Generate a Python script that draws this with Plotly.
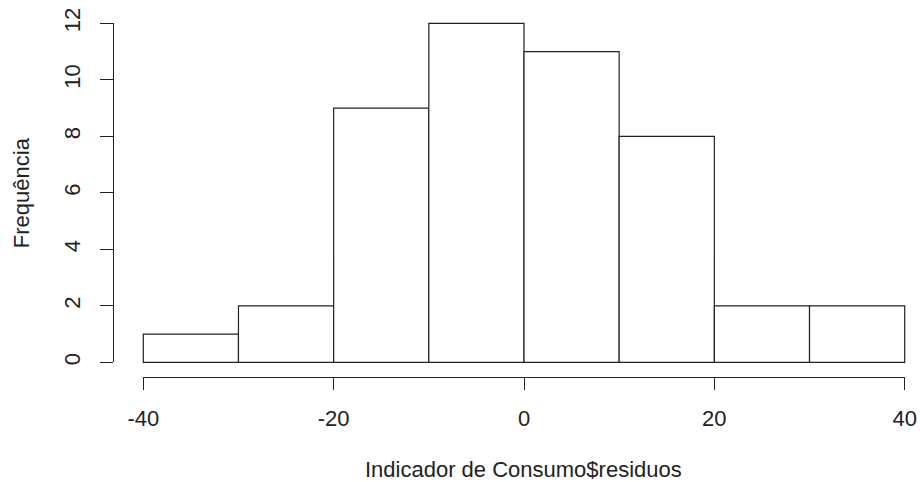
import plotly.graph_objects as go

# Data
bin_edges = [-40, -30, -20, -10, 0, 10, 20, 30, 40]
counts = [1, 2, 9, 12, 11, 8, 2, 2]
x_ticks = [-40, -20, 0, 20, 40]
y_ticks = [0, 2, 4, 6, 8, 10, 12]
x_title = "Indicador de Consumo$residuos"
y_title = "Frequência"

centers = [(a + b) / 2 for a, b in zip(bin_edges[:-1], bin_edges[1:])]
widths = [b - a for a, b in zip(bin_edges[:-1], bin_edges[1:])]

W, H = 920, 482
FONT = "Liberation Sans, Arial, sans-serif"
INK = "#222222"
FS = 22


def fx(px):
    return px / W


def fy(py):
    return 1 - py / H


# pixel geometry
x_left, x_right = 143.3, 904.7    # -40 .. 40
y_bot, y_top = 362.3, 23.3        # 0 .. 12
xs = (x_right - x_left) / 80.0
ys = (y_bot - y_top) / 12.0

fig = go.Figure()
fig.add_trace(go.Bar(
    x=centers, y=counts, width=widths,
    marker=dict(color="white", line=dict(color=INK, width=1.2)),
    hoverinfo="x+y", showlegend=False,
))
fig.add_trace(go.Scatter(
    x=[bin_edges[0], bin_edges[-1]], y=[y_ticks[0], y_ticks[-1]],
    xaxis="x2", yaxis="y2", mode="markers",
    marker=dict(opacity=0), hoverinfo="skip", showlegend=False,
))

pad = 1.0
fig.update_layout(
    width=W, height=H,
    margin=dict(l=0, r=0, t=0, b=0),
    paper_bgcolor="white", plot_bgcolor="rgba(0,0,0,0)",
    font=dict(family=FONT, size=FS, color=INK),
    xaxis=dict(visible=False, range=[-40 - pad, 40 + pad],
               domain=[fx(x_left - pad * xs), fx(x_right + pad * xs)]),
    yaxis=dict(visible=False, range=[-0.2, 12.2],
               domain=[fy(y_bot + 0.2 * ys), fy(y_top - 0.2 * ys)]),
    xaxis2=dict(range=[-40, 40], domain=[fx(x_left), fx(x_right)],
                anchor="free", position=fy(376.7),
                showline=True, linecolor=INK, linewidth=1.2,
                ticks="outside", ticklen=12, tickwidth=1.2, tickcolor=INK,
                tickvals=x_ticks, ticktext=[str(v) for v in x_ticks],
                ticklabelstandoff=10,
                showgrid=False, zeroline=False, automargin=False,
                tickfont=dict(size=FS, color=INK)),
    yaxis2=dict(range=[0, 12], domain=[fy(y_bot), fy(y_top)],
                anchor="free", position=fx(113.3),
                showline=True, linecolor=INK, linewidth=1.2,
                ticks="outside", ticklen=13, tickwidth=1.2, tickcolor=INK,
                tickvals=y_ticks, ticktext=[str(v) for v in y_ticks],
                tickangle=-90, ticklabelstandoff=11,
                showgrid=False, zeroline=False, automargin=False,
                tickfont=dict(size=FS, color=INK)),
    annotations=[
        dict(text=x_title, x=fx(523.7), y=fy(469.5), xref="paper", yref="paper",
             showarrow=False, xanchor="center", yanchor="middle",
             font=dict(size=FS, color=INK)),
        dict(text=y_title, x=fx(21.7), y=fy(192.5), xref="paper", yref="paper",
             showarrow=False, xanchor="center", yanchor="middle", textangle=-90,
             font=dict(size=FS, color=INK)),
    ],
)

fig.write_html("out.html",
               config={"displayModeBar": False},
               post_script="document.body.style.margin='0';document.body.style.padding='0';")
